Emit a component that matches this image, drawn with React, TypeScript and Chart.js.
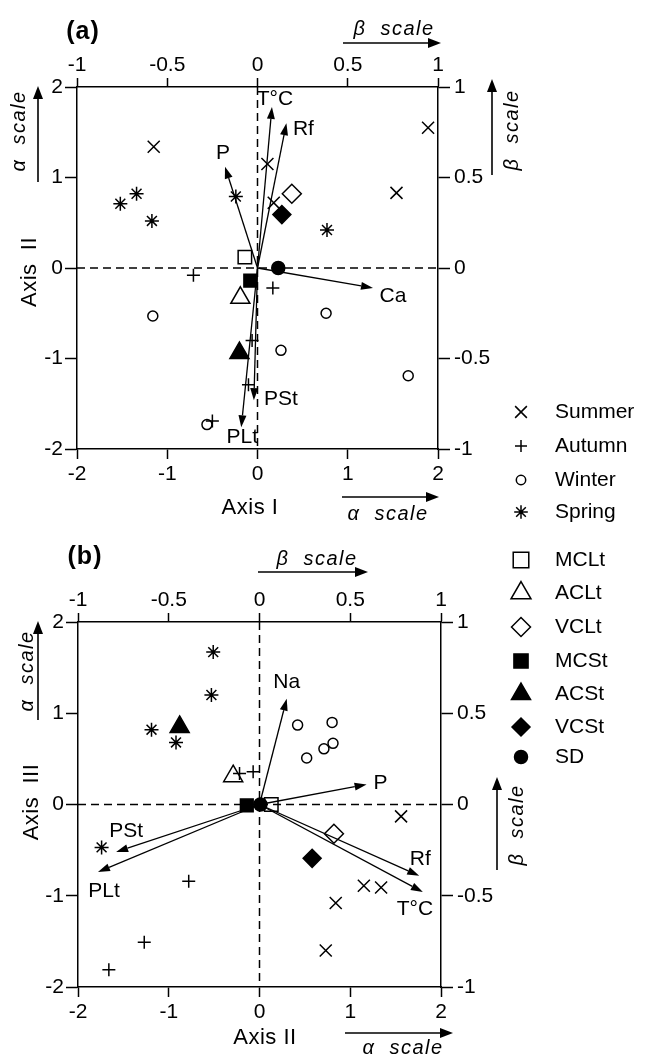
import React, { useEffect, useRef } from 'react';
import { Chart, registerables } from 'chart.js';
import { drawPoint } from 'chart.js/helpers';

Chart.register(...registerables);

const FONT = '"Liberation Sans", Arial, sans-serif';

// ---------------- data ----------------
const alphaTicks = [-2, -1, 0, 1, 2];
const betaTicks = [-1, -0.5, 0, 0.5, 1];

const seasonNames = ['Summer', 'Autumn', 'Winter', 'Spring'];
const groupNames = ['MCLt', 'ACLt', 'VCLt', 'MCSt', 'ACSt', 'VCSt', 'SD'];

// panel (a): Axis I vs Axis II (alpha scale)
const summerA = [
  { x: -1.15, y: 1.34 }, { x: 1.89, y: 1.55 }, { x: 0.11, y: 1.15 }, { x: 0.18, y: 0.72 }, { x: 1.54, y: 0.83 },
];
const autumnA = [
  { x: -0.71, y: -0.08 }, { x: 0.17, y: -0.22 }, { x: -0.06, y: -0.8 }, { x: -0.1, y: -1.29 }, { x: -0.5, y: -1.69 },
];
const winterA = [
  { x: -1.16, y: -0.53 }, { x: 0.76, y: -0.5 }, { x: 0.26, y: -0.91 }, { x: 1.67, y: -1.19 }, { x: -0.56, y: -1.73 },
];
const springA = [
  { x: -1.52, y: 0.71 }, { x: -1.34, y: 0.82 }, { x: -1.17, y: 0.52 }, { x: -0.24, y: 0.79 }, { x: 0.77, y: 0.42 },
];
const groupXA = [-0.14, -0.19, 0.38, -0.08, -0.2, 0.27, 0.23];
const groupYA = [0.12, -0.33, 0.82, -0.14, -0.94, 0.59, 0.0];

// panel (a) environmental vectors (beta scale)
const arrowLabelsA = ['T°C', 'Rf', 'P', 'Ca', 'PSt', 'PLt'];
const arrowXA = [0.08, 0.16, -0.18, 0.64, -0.02, -0.09];
const arrowYA = [0.89, 0.8, 0.56, -0.11, -0.73, -0.88];

// panel (b): Axis II vs Axis III (alpha scale)
const summerB = [
  { x: 1.56, y: -0.13 }, { x: 1.15, y: -0.89 }, { x: 1.34, y: -0.91 }, { x: 0.84, y: -1.08 }, { x: 0.73, y: -1.6 },
];
const autumnB = [
  { x: -0.78, y: -0.84 }, { x: -1.27, y: -1.51 }, { x: -1.66, y: -1.81 }, { x: -0.07, y: 0.36 }, { x: -0.22, y: 0.34 },
];
const winterB = [
  { x: 0.42, y: 0.87 }, { x: 0.8, y: 0.9 }, { x: 0.52, y: 0.51 }, { x: 0.71, y: 0.61 }, { x: 0.81, y: 0.67 },
];
const springB = [
  { x: -0.51, y: 1.67 }, { x: -0.53, y: 1.2 }, { x: -1.19, y: 0.82 }, { x: -0.92, y: 0.68 }, { x: -1.74, y: -0.47 },
];
const groupXB = [0.13, -0.29, 0.82, -0.14, -0.88, 0.58, 0.01];
const groupYB = [0.0, 0.31, -0.32, -0.01, 0.85, -0.59, 0.0];

const arrowLabelsB = ['Na', 'P', 'Rf', 'T°C', 'PSt', 'PLt'];
const arrowXB = [0.15, 0.59, 0.88, 0.9, -0.79, -0.89];
const arrowYB = [0.58, 0.11, -0.39, -0.48, -0.26, -0.37];

// ---------------- styles / layout ----------------
const markerStyles = [
  { ps: 'crossRot', r: 8.5, lr: 8.3, fill: 'rgba(0,0,0,0)' },
  { ps: 'cross', r: 6.5, lr: 6, fill: 'rgba(0,0,0,0)' },
  { ps: 'circle', r: 5, lr: 4.7, fill: 'rgba(0,0,0,0)' },
  { ps: 'star', r: 7, lr: 6.8, fill: 'rgba(0,0,0,0)' },
  { ps: 'rect', r: 9.5, lr: 11, fill: 'rgba(0,0,0,0)' },
  { ps: 'triangle', r: 11, lr: 11.5, fill: 'rgba(0,0,0,0)' },
  { ps: 'rectRot', r: 9.5, lr: 9.5, fill: 'rgba(0,0,0,0)' },
  { ps: 'rect', r: 9, lr: 10, fill: '#000' },
  { ps: 'triangle', r: 11, lr: 11, fill: '#000' },
  { ps: 'rectRot', r: 9, lr: 9, fill: '#000' },
  { ps: 'circle', r: 6.5, lr: 6.5, fill: '#000' },
];

const legendRows = [412, 446, 480, 512, 560, 593, 627, 661, 694, 727, 757];

const labelOffsetsA = [[3, -8], [17, 6], [-2, -13], [20, 8], [27, -1], [1, 10]];
const labelOffsetsB = [[0, -16], [14, -1], [1, -16], [-8, 17], [10, -21], [6, 19]];

type Decor = {
  panel: [string, number, number];
  top: { tx: number; ty: number; x0: number; x1: number; y: number };
  left: { tx: number; ty: number; x: number; y0: number; y1: number };
  leftTitle: [string, number, number];
  right: { tx: number; ty: number; x: number; y0: number; y1: number };
  bottomTitle: [string, number, number];
  bottom: { tx: number; ty: number; x0: number; x1: number; y: number };
};

const decorA: Decor = {
  panel: ['(a)', 83, 32],
  top: { tx: 394, ty: 29, x0: 343, x1: 441, y: 43 },
  left: { tx: 19, ty: 131, x: 38, y0: 182, y1: 86 },
  leftTitle: ['Axis  II', 30, 272],
  right: { tx: 512, ty: 130, x: 492, y0: 175, y1: 79 },
  bottomTitle: ['Axis I', 250, 508],
  bottom: { tx: 388, ty: 514, x0: 342, x1: 439, y: 497 },
};

const decorB: Decor = {
  panel: ['(b)', 85, 27],
  top: { tx: 317, ty: 29, x0: 258, x1: 368, y: 42 },
  left: { tx: 27, ty: 141, x: 38, y0: 190, y1: 91 },
  leftTitle: ['Axis  III', 32, 272],
  right: { tx: 517, ty: 295, x: 497, y0: 340, y1: 247 },
  bottomTitle: ['Axis II', 265, 508],
  bottom: { tx: 403, ty: 518, x0: 345, x1: 453, y: 503 },
};

function drawArrow(ctx: CanvasRenderingContext2D, x0: number, y0: number, x1: number, y1: number, head: number, half: number) {
  const ang = Math.atan2(y1 - y0, x1 - x0);
  const bx = x1 - head * Math.cos(ang);
  const by = y1 - head * Math.sin(ang);
  ctx.beginPath();
  ctx.moveTo(x0, y0);
  ctx.lineTo(bx, by);
  ctx.stroke();
  ctx.beginPath();
  ctx.moveTo(x1, y1);
  ctx.lineTo(bx + half * Math.sin(ang), by - half * Math.cos(ang));
  ctx.lineTo(bx - half * Math.sin(ang), by + half * Math.cos(ang));
  ctx.closePath();
  ctx.fill();
}

function rotText(ctx: CanvasRenderingContext2D, text: string, x: number, y: number) {
  ctx.save();
  ctx.translate(x, y);
  ctx.rotate(-Math.PI / 2);
  ctx.fillText(text, 0, 0);
  ctx.restore();
}

type Panel = {
  id: string;
  height: number;
  area: { left: number; right: number; top: number; bottom: number };
  seasons: { x: number; y: number }[][];
  groupX: number[];
  groupY: number[];
  arrowX: number[];
  arrowY: number[];
  arrowLabels: string[];
  offsets: number[][];
  decor: Decor;
  legend: boolean;
};

function axis(pos: string, min: number, max: number, ticks: number[], size: number, tickLen: number, pad: number) {
  const vertical = pos === 'left' || pos === 'right';
  return {
    type: 'linear',
    axis: vertical ? 'y' : 'x',
    position: pos,
    min,
    max,
    afterBuildTicks: (s: any) => {
      s.ticks = ticks.map((v) => ({ value: v }));
    },
    afterFit: (s: any) => {
      if (vertical) s.width = size;
      else s.height = size;
    },
    grid: {
      display: true,
      drawOnChartArea: false,
      drawTicks: true,
      tickLength: tickLen,
      tickColor: '#000',
      tickWidth: 1.5,
      color: '#000',
    },
    border: { display: true, color: '#000', width: 1.5 },
    ticks: {
      color: '#000',
      font: { family: FONT, size: 21 },
      padding: pad,
      autoSkip: false,
      maxRotation: 0,
      callback: (v: any) => String(v),
    },
  };
}

function buildConfig(p: Panel): any {
  const datasets: any[] = [];
  p.seasons.forEach((pts, i) => {
    const st = markerStyles[i];
    datasets.push({
      label: seasonNames[i],
      data: pts,
      xAxisID: 'x',
      yAxisID: 'y',
      pointStyle: st.ps,
      pointRadius: st.r,
      pointBorderColor: '#000',
      pointBackgroundColor: st.fill,
      pointBorderWidth: 1.5,
    });
  });
  groupNames.forEach((g, j) => {
    const st = markerStyles[4 + j];
    datasets.push({
      label: g,
      data: [{ x: p.groupX[j], y: p.groupY[j] }],
      xAxisID: 'x',
      yAxisID: 'y',
      pointStyle: st.ps,
      pointRadius: st.r,
      pointBorderColor: '#000',
      pointBackgroundColor: st.fill,
      pointBorderWidth: 1.5,
    });
  });

  const W = 646;
  const a = p.area;
  const plugin = {
    id: 'decor_' + p.id,
    beforeDatasetsDraw(chart: any) {
      const { ctx, chartArea: ca, scales } = chart;
      ctx.save();
      ctx.strokeStyle = '#000';
      ctx.fillStyle = '#000';
      ctx.lineWidth = 1.5;
      ctx.setLineDash([8, 5]);
      const zy = scales.y.getPixelForValue(0);
      const zx = scales.x.getPixelForValue(0);
      ctx.beginPath();
      ctx.moveTo(ca.left, zy);
      ctx.lineTo(ca.right, zy);
      ctx.moveTo(zx, ca.top);
      ctx.lineTo(zx, ca.bottom);
      ctx.stroke();
      ctx.setLineDash([]);
      ctx.lineWidth = 1.3;
      const ox = scales.x2.getPixelForValue(0);
      const oy = scales.y2.getPixelForValue(0);
      p.arrowX.forEach((vx, i) => {
        const tx = scales.x2.getPixelForValue(vx);
        const ty = scales.y2.getPixelForValue(p.arrowY[i]);
        drawArrow(ctx, ox, oy, tx, ty, 12, 4);
      });
      ctx.restore();
    },
    afterDraw(chart: any) {
      const { ctx, scales } = chart;
      ctx.save();
      ctx.fillStyle = '#000';
      ctx.strokeStyle = '#000';
      ctx.textAlign = 'center';
      ctx.textBaseline = 'middle';
      // vector labels
      ctx.font = `21px ${FONT}`;
      p.arrowX.forEach((vx, i) => {
        const tx = scales.x2.getPixelForValue(vx);
        const ty = scales.y2.getPixelForValue(p.arrowY[i]);
        ctx.fillText(p.arrowLabels[i], tx + p.offsets[i][0], ty + p.offsets[i][1]);
      });
      const d = p.decor;
      // panel label
      ctx.font = `bold 25px ${FONT}`;
      (ctx as any).letterSpacing = '1px';
      ctx.fillText(d.panel[0], d.panel[1], d.panel[2]);
      // scale annotations
      ctx.lineWidth = 1.6;
      ctx.font = `italic 20px ${FONT}`;
      (ctx as any).letterSpacing = '1.5px';
      ctx.fillText('β  scale', d.top.tx, d.top.ty);
      drawArrow(ctx, d.top.x0, d.top.y, d.top.x1, d.top.y, 13, 5);
      ctx.fillText('α  scale', d.bottom.tx, d.bottom.ty);
      drawArrow(ctx, d.bottom.x0, d.bottom.y, d.bottom.x1, d.bottom.y, 13, 5);
      rotText(ctx, 'α  scale', d.left.tx, d.left.ty);
      drawArrow(ctx, d.left.x, d.left.y0, d.left.x, d.left.y1, 13, 5);
      rotText(ctx, 'β  scale', d.right.tx, d.right.ty);
      drawArrow(ctx, d.right.x, d.right.y0, d.right.x, d.right.y1, 13, 5);
      // axis titles
      ctx.font = `22px ${FONT}`;
      (ctx as any).letterSpacing = '0.5px';
      ctx.fillText(d.bottomTitle[0], d.bottomTitle[1], d.bottomTitle[2]);
      rotText(ctx, d.leftTitle[0], d.leftTitle[1], d.leftTitle[2]);
      (ctx as any).letterSpacing = '0px';
      // legend
      if (p.legend) {
        const names = [...seasonNames, ...groupNames];
        ctx.font = `21px ${FONT}`;
        ctx.textAlign = 'left';
        names.forEach((n, i) => {
          const st = markerStyles[i];
          const y = legendRows[i];
          ctx.fillStyle = st.fill;
          ctx.strokeStyle = '#000';
          ctx.lineWidth = 1.5;
          drawPoint(ctx, { pointStyle: st.ps as any, radius: st.lr, rotation: 0, borderWidth: 1.5 } as any, 521, y);
          ctx.fillStyle = '#000';
          ctx.fillText(n, 555, y);
        });
      }
      ctx.restore();
    },
  };

  return {
    type: 'scatter',
    data: { datasets },
    options: {
      animation: false,
      responsive: false,
      maintainAspectRatio: false,
      devicePixelRatio: 1,
      events: [],
      layout: { padding: 0 },
      plugins: { legend: { display: false }, tooltip: { enabled: false } },
      scales: {
        x: axis('bottom', -2, 2, alphaTicks, p.height - a.bottom, 10, 3),
        y: axis('left', -2, 2, alphaTicks, a.left, 12, 2),
        x2: axis('top', -1, 1, betaTicks, a.top, 9, 0),
        y2: axis('right', -1, 1, betaTicks, W - a.right, 12, 4),
      },
    },
    plugins: [plugin],
  };
}

const panelA: Panel = {
  id: 'a',
  height: 1059,
  area: { left: 77, right: 438, top: 87, bottom: 449 },
  seasons: [summerA, autumnA, winterA, springA],
  groupX: groupXA,
  groupY: groupYA,
  arrowX: arrowXA,
  arrowY: arrowYA,
  arrowLabels: arrowLabelsA,
  offsets: labelOffsetsA,
  decor: decorA,
  legend: true,
};

const panelB: Panel = {
  id: 'b',
  height: 529,
  area: { left: 78, right: 441, top: 92, bottom: 457 },
  seasons: [summerB, autumnB, winterB, springB],
  groupX: groupXB,
  groupY: groupYB,
  arrowX: arrowXB,
  arrowY: arrowYB,
  arrowLabels: arrowLabelsB,
  offsets: labelOffsetsB,
  decor: decorB,
  legend: false,
};

export default function App() {
  const refA = useRef<HTMLCanvasElement>(null);
  const refB = useRef<HTMLCanvasElement>(null);
  useEffect(() => {
    const ca = new Chart(refA.current as HTMLCanvasElement, buildConfig(panelA));
    const cb = new Chart(refB.current as HTMLCanvasElement, buildConfig(panelB));
    return () => {
      ca.destroy();
      cb.destroy();
    };
  }, []);
  return (
    <div style={{ position: 'absolute', left: 0, top: 0, width: 646, height: 1059, background: '#fff' }}>
      <canvas
        ref={refA}
        width={646}
        height={1059}
        style={{ position: 'absolute', left: 0, top: 0, width: 646, height: 1059, display: 'block' }}
      />
      <canvas
        ref={refB}
        width={646}
        height={529}
        style={{ position: 'absolute', left: 0, top: 530, width: 646, height: 529, display: 'block' }}
      />
    </div>
  );
}
